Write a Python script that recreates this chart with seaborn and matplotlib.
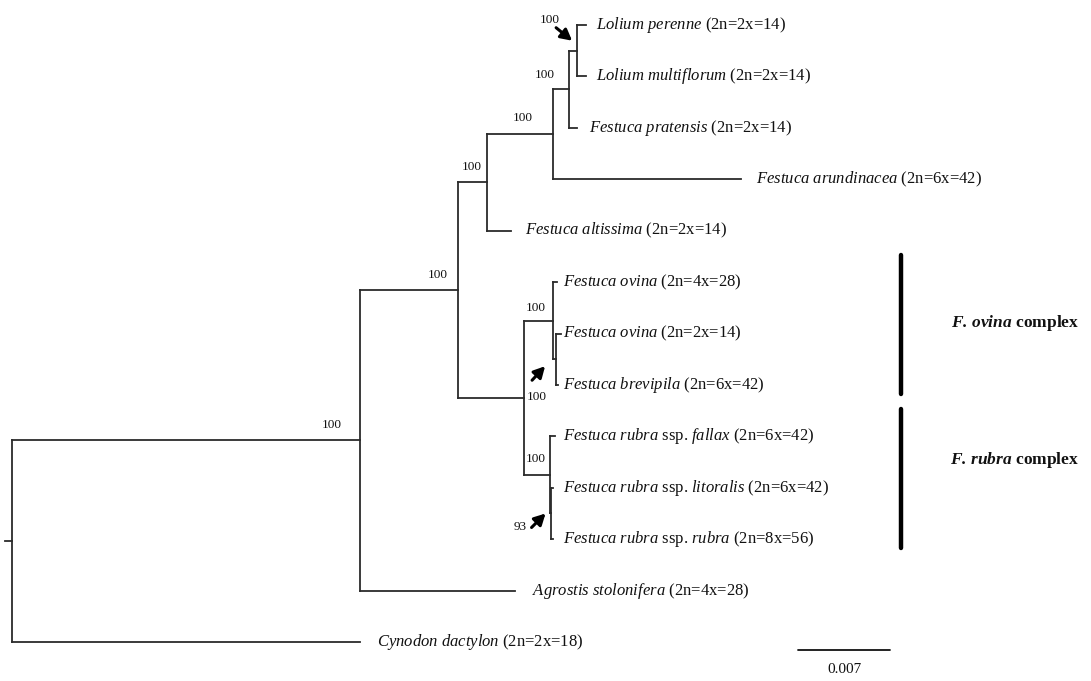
import matplotlib
matplotlib.use("Agg")
import matplotlib.pyplot as plt
import numpy as np
import pandas as pd
import seaborn as sns

# ---------------- data ----------------
# tree topology (node, parent, branch length in substitutions/site)
node_ids = ['stub', 'root', 'A', 'B', 'C', 'D', 'E', 'L', 'F', 'G', 'K', 'H', 'M',
            'perenne', 'multiflorum', 'pratensis', 'arundinacea', 'altissima',
            'ovina4x', 'ovina2x', 'brevipila', 'fallax', 'litoralis', 'rubra',
            'agrostis', 'cynodon']
parent_ids = [None, 'stub', 'root', 'A', 'B', 'C', 'D', 'E', 'B', 'F', 'G', 'F', 'H',
              'L', 'L', 'E', 'D', 'C', 'G', 'K', 'K', 'H', 'M', 'M', 'A', 'root']
branch_lengths = [0.0, 0.00053, 0.02648, 0.00746, 0.00221, 0.00502, 0.00122, 0.00061,
                  0.00502, 0.00221, 0.00023, 0.00198, 0.00004,
                  0.00068, 0.00068, 0.00061, 0.01430, 0.00183,
                  0.00030, 0.00038, 0.00015, 0.00038, 0.00019, 0.00019,
                  0.01179, 0.02648]

leaf_order = ['perenne', 'multiflorum', 'pratensis', 'arundinacea', 'altissima',
              'ovina4x', 'ovina2x', 'brevipila', 'fallax', 'litoralis', 'rubra',
              'agrostis', 'cynodon']
leaf_labels = [
    r"$\mathit{Lolium\ perenne}$ (2n=2x=14)",
    r"$\mathit{Lolium\ multiflorum}$ (2n=2x=14)",
    r"$\mathit{Festuca\ pratensis}$ (2n=2x=14)",
    r"$\mathit{Festuca\ arundinacea}$ (2n=6x=42)",
    r"$\mathit{Festuca\ altissima}$ (2n=2x=14)",
    r"$\mathit{Festuca\ ovina}$ (2n=4x=28)",
    r"$\mathit{Festuca\ ovina}$ (2n=2x=14)",
    r"$\mathit{Festuca\ brevipila\ (}$2n=6x=42)",
    r"$\mathit{Festuca\ rubra}$ ssp. $\mathit{fallax\ (}$2n=6x=42)",
    r"$\mathit{Festuca\ rubra}$ ssp. $\mathit{litoralis\ (}$2n=6x=42)",
    r"$\mathit{Festuca\ rubra}$ ssp. $\mathit{rubra\ (}$2n=8x=56)",
    r"$\mathit{Agrostis\ stolonifera}$ (2n=4x=28)",
    r"$\mathit{Cynodon\ dactylon}$ (2n=2x=18)",
]
label_gap_px = [10, 10, 12, 15, 14, 6, 2, 5, 8, 10, 10, 17, 17]

bootstrap_nodes = ['L', 'E', 'D', 'C', 'B', 'A', 'G', 'F', 'H', 'M']
bootstrap_values = ['100', '100', '100', '100', '100', '100', '100', '100', '100', '93']
bootstrap_offset_px = [(-27, -31), (-24, -14), (-30, -16), (-15, -15), (-20, -15),
                       (-28, -15), (-17, -13), (13, -1), (-14, -16), (-30, 14)]

arrow_nodes = ['L', 'K', 'M']
arrow_head_px = [(-5, -10), (-11, 7), (-5, 0)]
arrow_tail_px = [(-21, -23), (-24, 21), (-19, 14)]

clade_names = [r"$\mathbfit{F.}\,\mathbfit{ovina}$ complex",
               r"$\mathbfit{F.}\,\mathbfit{rubra}$ complex"]
clade_first_leaf = ['ovina4x', 'fallax']
clade_last_leaf = ['brevipila', 'rubra']
clade_pad = (0.53, 0.18)          # leaf units above / below
clade_label_shift = [-0.03, -0.37]  # leaf units relative to bar centre

scale_bar_length = 0.007
scale_bar_label = "0.007"

# ---------------- style ----------------
sns.set_theme(style="white")
plt.rcParams['font.family'] = ['Liberation Serif', 'DejaVu Serif']
plt.rcParams['mathtext.fontset'] = 'custom'
plt.rcParams['mathtext.rm'] = 'Liberation Serif'
plt.rcParams['mathtext.it'] = 'Liberation Serif:italic'
plt.rcParams['mathtext.bf'] = 'Liberation Serif:bold'
plt.rcParams['mathtext.bfit'] = 'Liberation Serif:italic:bold'

W, H = 1091, 681
fig = plt.figure(figsize=(W / 100, H / 100), dpi=100)
ax = fig.add_axes([0, 0, 1, 1])
ax.axis('off')

# pixel geometry of the layout
x_per_px = scale_bar_length / 92.0
y_top_px, y_step_px = 25.0, 51.42
x0_px = 5.0
y_per_px = 1.0 / y_step_px

# ---------------- compute tree layout ----------------
parent = dict(zip(node_ids, parent_ids))
blen = dict(zip(node_ids, branch_lengths))
children = {n: [] for n in node_ids}
for n, p in zip(node_ids, parent_ids):
    if p is not None:
        children[p].append(n)

xpos = {}
def set_x(n, acc):
    xpos[n] = acc + blen[n]
    for c in children[n]:
        set_x(c, xpos[n])
set_x('stub', 0.0)

ypos = {leaf: i for i, leaf in enumerate(leaf_order)}
def set_y(n):
    if n in ypos:
        return ypos[n]
    ys = [set_y(c) for c in children[n]]
    ypos[n] = (min(ys) + max(ys)) / 2.0
    return ypos[n]
set_y('stub')
ypos['stub'] = ypos['root']

rows = []
seg = 0
for n in node_ids:
    p = parent[n]
    if p is not None:
        rows += [(seg, xpos[p], ypos[n]), (seg, xpos[n], ypos[n])]
        seg += 1
    if children[n] and n != 'stub':
        ys = [ypos[c] for c in children[n]]
        rows += [(seg, xpos[n], min(ys)), (seg, xpos[n], max(ys))]
        seg += 1
tree_df = pd.DataFrame(rows, columns=['seg', 'x', 'y'])

sns.lineplot(data=tree_df, x='x', y='y', units='seg', estimator=None, sort=False,
             color='#2b2b2b', linewidth=1.3, ax=ax, legend=False,
             solid_capstyle='projecting')

# tip labels
for leaf, lab, gap in zip(leaf_order, leaf_labels, label_gap_px):
    ax.annotate(lab, xy=(xpos[leaf], ypos[leaf]), xytext=(gap * 0.72, 0),
                textcoords='offset points', ha='left', va='center',
                fontsize=12, color='#111111')

# bootstrap values
for n, v, (dx, dy) in zip(bootstrap_nodes, bootstrap_values, bootstrap_offset_px):
    ax.text(xpos[n] + dx * x_per_px, ypos[n] + dy * y_per_px, v,
            ha='center', va='center', fontsize=9.5, color='#111111')

# arrows
for n, (hx, hy), (tx, ty) in zip(arrow_nodes, arrow_head_px, arrow_tail_px):
    ax.annotate('', xy=(xpos[n] + hx * x_per_px, ypos[n] + hy * y_per_px),
                xytext=(xpos[n] + tx * x_per_px, ypos[n] + ty * y_per_px),
                arrowprops=dict(arrowstyle='-|>,head_length=0.6,head_width=0.32',
                                lw=2.2, color='black', shrinkA=0, shrinkB=0,
                                mutation_scale=11))

# clade bars
bar_x = max(xpos[l] for l in leaf_order) + 160 * x_per_px
bar_rows = []
for i, (f, l) in enumerate(zip(clade_first_leaf, clade_last_leaf)):
    y1 = ypos[f] - clade_pad[0]
    y2 = ypos[l] + clade_pad[1]
    bar_rows += [(i, bar_x, y1), (i, bar_x, y2)]
bar_df = pd.DataFrame(bar_rows, columns=['seg', 'x', 'y'])
sns.lineplot(data=bar_df, x='x', y='y', units='seg', estimator=None, sort=False,
             color='black', linewidth=3.2, ax=ax, legend=False)
for i, (name, f, l) in enumerate(zip(clade_names, clade_first_leaf, clade_last_leaf)):
    yc = (ypos[f] - clade_pad[0] + ypos[l] + clade_pad[1]) / 2 + clade_label_shift[i]
    ax.text(bar_x + 114 * x_per_px, yc, name, ha='center', va='center',
            fontsize=12.5, fontweight='bold', color='#111111')

# scale bar
sb_x0 = xpos['stub'] + (798 - x0_px) * x_per_px
sb_y = ypos['cynodon'] + 8 * y_per_px
sb_df = pd.DataFrame({'x': [sb_x0, sb_x0 + scale_bar_length], 'y': [sb_y, sb_y]})
sns.lineplot(data=sb_df, x='x', y='y', estimator=None, sort=False, color='#111111',
             linewidth=1.3, ax=ax, legend=False)
ax.text(sb_x0 + scale_bar_length / 2, sb_y + 19 * y_per_px, scale_bar_label,
        ha='center', va='center', fontsize=11, color='#111111')

ax.set_xlabel('')
ax.set_ylabel('')
ax.set_xlim(-x0_px * x_per_px, (W - x0_px) * x_per_px)
ax.set_ylim((H - y_top_px) / y_step_px, -y_top_px / y_step_px)
ax.axis('off')
fig.savefig('out.png', dpi=100)
